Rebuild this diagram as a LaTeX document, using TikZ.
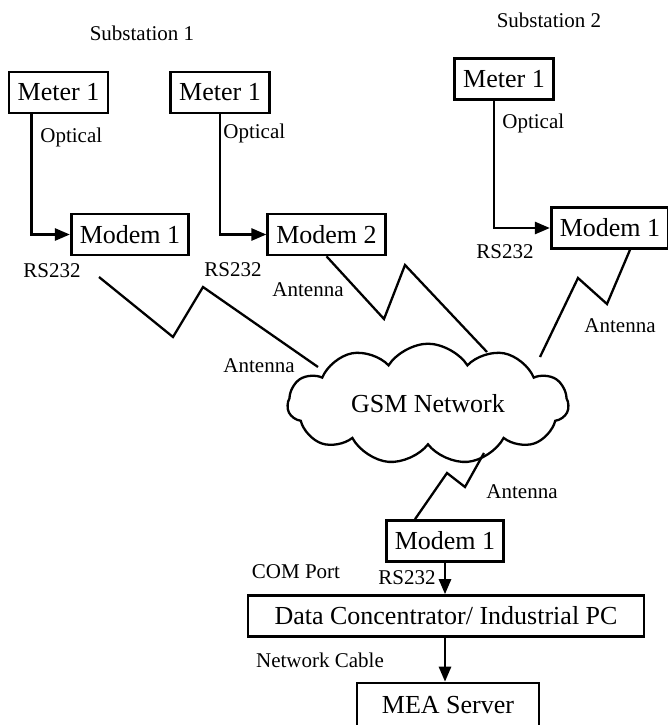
\documentclass[tikz,border=0pt]{standalone}
\usepackage{fontspec}
\setmainfont{Liberation Serif}
\usetikzlibrary{arrows.meta,shapes.symbols}
\tikzset{%
    >={Triangle[length=7.5pt,width=6pt]}, % filled arrow heads
    unit box/.style={draw,line width=1.3pt,inner xsep=4.3pt,inner ysep=0pt,
        minimum height=20.5pt,font=\fontsize{13}{15}\selectfont},%
    small text/.style={inner sep=0pt,font=\fontsize{10.5}{12}\selectfont},%
    link/.style={line width=1.3pt,->},%
    radio/.style={line width=1.15pt,line join=miter}%
}

\begin{document}
\begin{tikzpicture}[x=0.5pt,y=-0.5pt] % one unit = one pixel of the sketch

    \useasboundingbox (0,0) rectangle (668,725);

    % substations
    \node[small text] (subA) at (142,33) {Substation 1};
    \node[small text] (subB) at (549,20) {Substation 2};

    \node[unit box] (meterA) at (58.5,92.5) {Meter 1};
    \node[unit box] (meterB) at (220,92.5) {Meter 1};
    \node[unit box] (meterC) at (504,79) {Meter 1};

    \node[unit box] (modemA) at (130,234.5) {Modem 1};
    \node[unit box] (modemB) at (326.5,234.5) {Modem 2};
    \node[unit box] (modemC) at (610,228) {Modem 1};

    % optical links
    \coordinate (tapA) at (31.7,113);
    \coordinate (tapC) at (494,99);
    \draw[link] (meterA.south -| tapA) |- (modemA.west);
    \draw[link] (meterB.south) |- (modemB.west);
    \draw[link] (meterC.south -| tapC) |- (modemC.west);

    \node[small text,anchor=west] (optA) at (40,137) {Optical};
    \node[small text,anchor=west] (optB) at (223,133) {Optical};
    \node[small text,anchor=west] (optC) at (502,123) {Optical};

    \node[small text] (rsA) at (52,271) {RS232};
    \node[small text] (rsB) at (233,270) {RS232};
    \node[small text] (rsC) at (505,252) {RS232};

    % the GSM cloud
    \node[cloud,draw,line width=1.15pt,cloud puffs=11,cloud puff arc=115,
        aspect=2.4,inner sep=0pt,minimum width=140.5pt,minimum height=58.5pt,
        font=\fontsize{13}{15}\selectfont] (gsm) at (428,404) {GSM Network};

    % control centre
    \node[unit box] (modemD) at (445,541) {Modem 1};
    \node[unit box,minimum width=198pt] (dc) at (446,616)
        {Data Concentrator/ Industrial PC};
    \node[unit box,minimum width=91pt,minimum height=22pt] (mea) at (448,705)
        {MEA Server};

    \draw[link] (modemD.south) -- (dc.north -| modemD);
    \draw[link] (dc.south -| modemD) -- (mea.north -| modemD);

    % radio hops
    \coordinate (zA0) at (99,277);
    \coordinate (zA1) at (173,337);
    \coordinate (zA2) at (203,287);
    \coordinate (zA3) at (318,367);
    \draw[radio] (zA0) -- (zA1) -- (zA2) -- (zA3);

    \coordinate (zB1) at (384,319);
    \coordinate (zB2) at (405,265);
    \coordinate (zB3) at (487,352);
    \draw[radio] (modemB.south) -- (zB1) -- (zB2) -- (zB3);

    \coordinate (zC0) at (630,248);
    \coordinate (zC1) at (607,304);
    \coordinate (zC2) at (578,278);
    \coordinate (zC3) at (540,357);
    \draw[radio] (modemC.south -| zC0) -- (zC1) -- (zC2) -- (zC3);

    \coordinate (zD0) at (484,453);
    \coordinate (zD1) at (465,487);
    \coordinate (zD2) at (447,473);
    \coordinate (zD3) at (415,520);
    \draw[radio] (zD0) -- (zD1) -- (zD2) -- (modemD.north -| zD3);

    \node[small text] (antB) at (308,290) {Antenna};
    \node[small text] (antA) at (259,366) {Antenna};
    \node[small text] (antC) at (620,326) {Antenna};
    \node[small text] (antD) at (522,492) {Antenna};

    \node[small text] (com) at (296,572) {COM Port};
    \node[small text] (rsD) at (407,578) {RS232};
    \node[small text] (cable) at (320,660) {Network Cable};

\end{tikzpicture}
\end{document}
